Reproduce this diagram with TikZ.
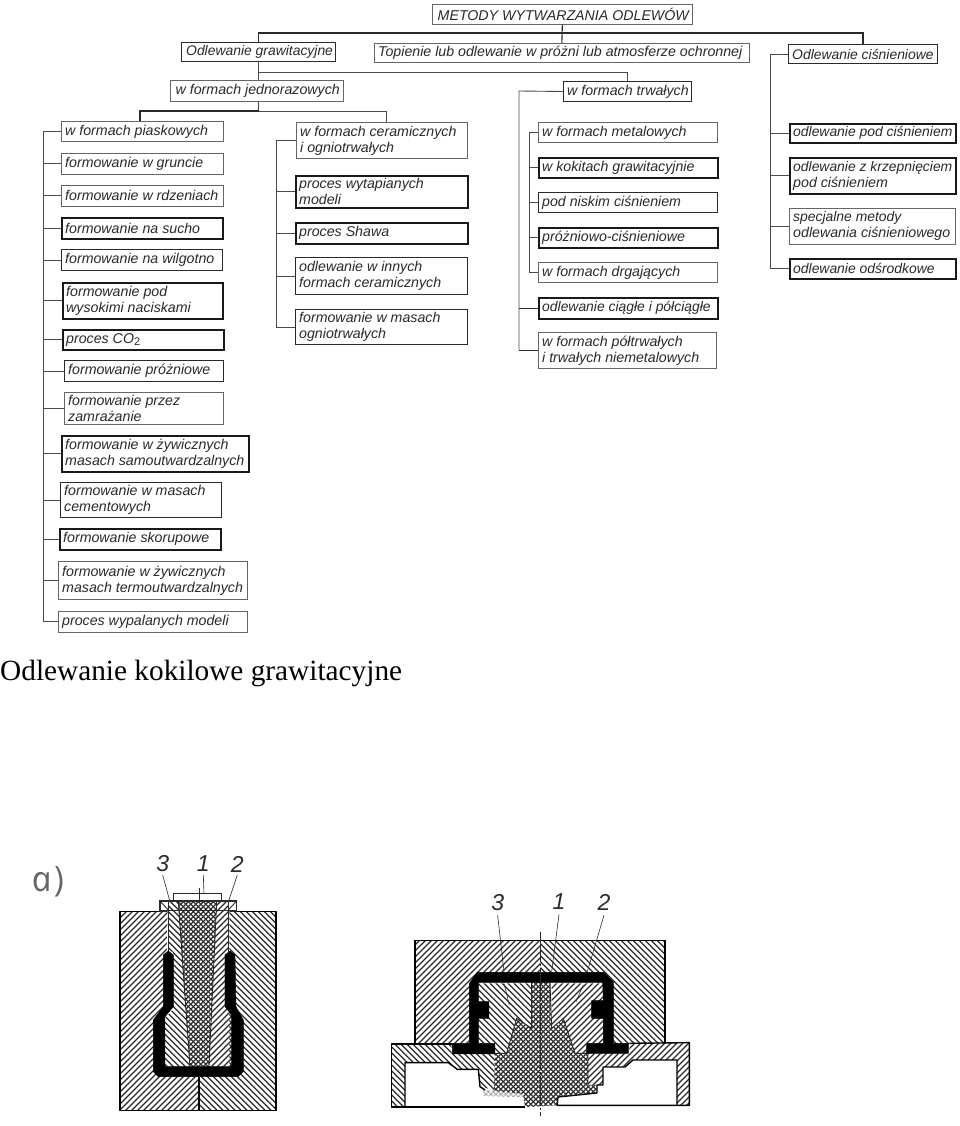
\documentclass[tikz,border=0pt]{standalone}
\usepackage{fontspec}
\setmainfont{Liberation Sans}
\newfontfamily\headfont{Liberation Serif}
\newfontfamily\afont{Open Sans}
\usetikzlibrary{calc}
\definecolor{ink}{HTML}{2A2A2A}
\definecolor{lineg}{HTML}{4A4A4A}
\newcommand{\smf}{\fontsize{13.9}{16}\selectfont}
\tikzset{
  x=1pt,y=-1pt,
  light/.style={draw=lineg!85,line width=0.7pt},
  mid/.style={draw=ink,line width=1.0pt},
  heavy/.style={draw=black!90,line width=1.6pt},
  tx/.style={anchor=west,align=left,inner sep=0pt,text=ink,font=\itshape\fontsize{14.2}{16}\selectfont},
  link/.style={draw=lineg,line width=0.9pt},
  linkb/.style={draw=ink,line width=1.1pt},
  hline/.style={draw=ink,line width=1.25pt},
  xline/.style={draw=ink,line width=1.15pt},
  outl/.style={draw=black,line width=1.4pt,line join=round},
  thin/.style={draw=ink,line width=0.9pt},
  cav/.style={fill=black,draw=black,line width=0.4pt,line join=round},
  lead/.style={draw=ink,line width=0.6pt},
  num/.style={inner sep=0pt,text=ink,font=\itshape\fontsize{23}{23}\selectfont},
}
\newcommand{\bx}[7]{%
  \pgfmathsetmacro{\bw}{#4-#2}\pgfmathsetmacro{\bh}{#5-#3}%
  \node[#6,fill=white,inner sep=0pt,minimum width=\bw pt,minimum height=\bh pt,anchor=north west] (#1) at (#2,#3) {};
  \node[tx] (#1t) at ([xshift=4pt]#1.west) {#7};
}
% hatching in the 3x coordinates of the figure scopes
\newcommand{\hatchR}[1]{\begin{scope}\clip #1;\foreach \k in {0,18,...,2600} \draw[hline] (\k,0) -- (\k-1600,1600);\end{scope}}
\newcommand{\hatchL}[1]{\begin{scope}\clip #1;\foreach \k in {-1600,-1582,...,1100} \draw[hline] (\k,0) -- (\k+1600,1600);\end{scope}}
\newcommand{\hatchX}[1]{\begin{scope}\clip #1;\foreach \k in {0,15,...,2600} \draw[xline] (\k,0) -- (\k-1600,1600);\foreach \k in {-1600,-1585,...,1100} \draw[xline] (\k,0) -- (\k+1600,1600);\end{scope}}
\begin{document}
\begin{tikzpicture}
\useasboundingbox (0,0) rectangle (960,1126);
\fill[white] (0,0) rectangle (960,1126);
% coordinates of trunks
\coordinate (tA) at (43,130);
\coordinate (tB) at (276,140);
\coordinate (tC) at (519,91);
\coordinate (tD) at (529,131);
\coordinate (tE) at (770,53);
\coordinate (j1) at (140,111);
\coordinate (j2) at (386,111);
% top boxes
\bx{met}{432}{4}{692}{24}{light}{\kern1.5pt METODY WYTWARZANIA ODLEWÓW}
\bx{gra}{181}{42}{335}{61}{mid}{\kern1pt\smf Odlewanie grawitacyjne}
\bx{top}{374}{43}{749}{62}{light}{Topienie lub odlewanie w próżni lub atmosferze ochronnej}
\bx{cis}{788}{44}{937}{63}{mid}{\smf Odlewanie ciśnieniowe}
\bx{jed}{170}{80}{343}{101}{light}{\kern1.5pt w formach jednorazowych}
\bx{trw}{563}{81}{691}{101}{mid}{w formach trwałych}
% left column
\bx{a1}{61}{121}{223}{141}{light}{w formach piaskowych}
\bx{a2}{61}{153}{223}{174}{light}{formowanie w gruncie}
\bx{a3}{61}{185}{223}{206}{light}{formowanie w rdzeniach}
\bx{a4}{61}{217}{222}{238}{heavy}{formowanie na sucho}
\bx{a5}{61}{249}{222}{270}{mid}{formowanie na wilgotno}
\bx{a6}{62}{282}{222}{318}{heavy}{formowanie pod\\wysokimi naciskami}
\bx{a7}{62}{329}{223}{349}{heavy}{proces CO\raisebox{-2.5pt}{\upshape\fontsize{11}{11}\selectfont 2}}
\bx{a8}{64}{360}{223}{381}{mid}{formowanie próżniowe}
\bx{a9}{64}{392}{223}{424}{light}{formowanie przez\\zamrażanie}
\bx{a10}{61}{435}{248}{471}{heavy}{formowanie w żywicznych\\masach samoutwardzalnych}
\bx{a11}{60}{482}{221}{517}{mid}{formowanie w masach\\cementowych}
\bx{a12}{59}{528}{220}{549}{heavy}{formowanie skorupowe}
\bx{a13}{58}{561}{247}{599}{light}{formowanie w żywicznych\\masach termoutwardzalnych}
\bx{a14}{58}{611}{247}{632}{light}{proces wypalanych modeli}
% second column
\bx{b1}{296}{122}{467}{158}{light}{w formach ceramicznych\\i ogniotrwałych}
\bx{b2}{295}{175}{467}{207}{heavy}{proces wytapianych\\modeli}
\bx{b3}{295}{222}{467}{243}{heavy}{proces Shawa}
\bx{b4}{295}{257}{467}{294}{mid}{odlewanie w innych\\formach ceramicznych}
\bx{b5}{295}{309}{467}{344}{mid}{formowanie w masach\\ogniotrwałych}
% third column
\bx{c1}{538}{122}{717}{142}{light}{w formach metalowych}
\bx{c2}{538}{157}{717}{177}{heavy}{w kokitach grawitacyjnie}
\bx{c3}{538}{192}{717}{212}{mid}{pod niskim ciśnieniem}
\bx{c4}{538}{227}{717}{247}{heavy}{próżniowo-ciśnieniowe}
\bx{c5}{538}{262}{717}{282}{light}{w formach drgających}
\bx{c6}{538}{297}{717}{318}{heavy}{\smf odlewanie ciągłe i półciągłe}
\bx{c7}{538}{332}{716}{368}{light}{w formach półtrwałych\\i trwałych niemetalowych}
% fourth column
\bx{d1}{789}{123}{955}{142}{heavy}{\smf odlewanie pod ciśnieniem}
\bx{d2}{789}{157}{955}{193}{heavy}{\smf odlewanie z krzepnięciem\\pod ciśnieniem}
\bx{d3}{789}{208}{955}{244}{light}{\smf specjalne metody\\odlewania ciśnieniowego}
\bx{d4}{789}{258}{955}{278}{heavy}{\smf odlewanie odśrodkowe}
% connectors top
\draw[linkb] (met.south) -- (top.north);
\draw[linkb] (gra.north) -- ++(0,-9) coordinate (busL) -| (cis.north);
\draw[link] (gra.south) -- (jed.north -| gra);
\coordinate (busM) at ($(gra.south)+(0,10)$);
\draw[link] (busM) -| (trw.north);
\draw[link] (jed.south -| gra) -- (gra |- j1);
\draw[linkb] (j1 -| gra) -- (j1) -- (a1.north -| j1);
\draw[link] (j1 -| gra) -- (j2) -- (b1.north -| j2);
% trunk A
\draw[link] (a1.west -| tA) -- (a14.west -| tA);
\foreach \n in {a1,a2,a3,a4,a5,a6,a7,a8,a9,a10,a11,a12,a13,a14} \draw[link] (\n.west -| tA) -- (\n.west);
% trunk B
\draw[link] (b1.west -| tB) -- (b5.west -| tB);
\foreach \n in {b1,b2,b3,b4,b5} \draw[link] (\n.west -| tB) -- (\n.west);
% trunk C
\draw[link] (trw.west) -- (tC) -- (c7.west -| tC);
\foreach \n in {c6,c7} \draw[linkb] (\n.west -| tC) -- (\n.west);
% trunk D
\draw[link] (c1.west -| tD) -- (c5.west -| tD);
\foreach \n in {c1,c2,c3,c4,c5} \draw[link] (\n.west -| tD) -- (\n.west);
% trunk E
\draw[link] (cis.west) -- (cis.west -| tE) -- (d4.west -| tE);
\foreach \n in {d1,d2,d3,d4} \draw[link] (\n.west -| tE) -- (\n.west);
% heading
\node[anchor=base west,inner sep=0pt,font=\headfont\fontsize{29.3}{30}\selectfont,text=black] (head) at (0,680) {Odlewanie kokilowe grawitacyjne};
% a)
\begin{scope}[shift={(48,882)}]
\node[xslant=-0.2,transform shape,anchor=center,inner sep=0pt,font=\afont\itshape\fontsize{35}{35}\selectfont,text=black!60] (alab) at (0,0) {a\kern3pt)};
\end{scope}
% --- left figure (3x coordinates)
\begin{scope}[shift={(0,840)},x=0.3333pt,y=-0.3333pt]
  \hatchR{(360,215) rectangle (597,812)}
  \hatchL{(597,215) rectangle (828,812)}
  \draw[outl] (360,215) rectangle (828,812);
  \draw[outl] (597,710) -- (597,812);
  % head plate and cap
  \filldraw[fill=white,draw=ink,line width=1.2pt] (480,213) -- (480,183) -- (710,183) -- (710,213) -- cycle;
  \filldraw[fill=white,draw=ink,line width=1.2pt] (520,183) -- (520,160) -- (665,160) -- (665,183) -- cycle;
  \path[fill=white] (503,213) -- (688,213) -- (688,700) -- (492,700) -- cycle;
  % core
  \hatchL{(505,186) -- (538,186) -- (570,680) -- (492,680) -- (492,537) -- (518,510) -- (518,335) -- (505,335) -- cycle}
  \hatchR{(650,186) -- (685,186) -- (685,335) -- (675,335) -- (675,500) -- (695,525) -- (695,680) -- (625,680) -- cycle}
  \hatchX{(535,186) -- (650,186) -- (627,680) -- (570,680) -- cycle}
  \draw[thin] (535,186) -- (570,680) (650,186) -- (627,680);
  \draw[thin] (505,186) -- (505,335) (685,186) -- (685,335);
  \draw[thin] (480,183) -- (505,210) (710,183) -- (685,210);
  % cavity
  \path[cav] (490,345) -- (505,333) -- (520,345) -- (520,500) -- (495,530) -- (495,680) -- (695,680) -- (695,525) -- (675,500) -- (675,345) -- (690,333) -- (705,345) -- (708,500) -- (730,540) -- (730,695) -- (715,710) -- (475,710) -- (460,695) -- (460,540) -- (490,500) -- cycle;
  % labels
  \node[num] (n3) at (488,72) {3};
  \node[num] (n1) at (610,72) {1};
  \node[num] (n2) at (712,72) {2};
  \draw[lead] (n3.south) ++(0,8) -- (510,185);
  \draw[lead] (n1.south) ++(0,8) -- (612,160);
  \draw[lead] (n2.south) ++(0,8) -- (687,180);
  \draw[lead] (597,145) -- (597,186);
\end{scope}
% --- right figure (3x coordinates)
\begin{scope}[shift={(370,870)},x=0.3333pt,y=-0.3333pt]
  \hatchR{(135,212) rectangle (512,520)}
  \hatchL{(512,212) rectangle (885,520)}
  \draw[outl] (135,520) -- (135,212) -- (885,212) -- (885,520);
  % lower plate
  \path[fill=white] (65,522) rectangle (958,712);
  \hatchL{(65,522) -- (245,522) -- (245,550) -- (375,550) -- (372,660) -- (330,650) -- (325,598) -- (262,598) -- (235,578) -- (105,578) -- (105,712) -- (65,712) -- cycle}
  \hatchR{(654,550) -- (778,550) -- (778,520) -- (958,518) -- (958,705) -- (921,705) -- (921,570) -- (789,570) -- (765,591) -- (699,591) -- (699,645) -- (654,645) -- cycle}
  \draw[outl] (465,711) -- (65,711) -- (65,522) -- (245,522);
  \draw[outl] (778,520) -- (958,518) -- (958,706) -- (561,706);
  \draw[outl] (105,711) -- (105,578) -- (235,578) -- (262,598) -- (325,598) -- (330,650) -- (345,660);
  \draw[outl] (921,706) -- (921,570) -- (789,570) -- (765,591) -- (699,591) -- (699,645) -- (681,645) -- (681,669) -- (564,681) -- (561,706);
  % inner cores
  \path[fill=white] (325,335) rectangle (700,550);
  \hatchL{(325,340) -- (482,340) -- (485,475) -- (440,445) -- (410,550) -- (375,550) -- (375,520) -- (325,520) -- cycle}
  \hatchR{(545,340) -- (700,340) -- (700,520) -- (650,520) -- (650,550) -- (615,550) -- (580,445) -- (545,475) -- cycle}
  % casting centre
  \hatchX{(375,550) -- (410,550) -- (440,445) -- (485,475) -- (485,337) -- (540,337) -- (545,475) -- (580,445) -- (615,550) -- (654,550) -- (654,645) -- (681,645) -- (681,669) -- (564,681) -- (561,706) -- (465,711) -- (460,672) -- (372,662) -- cycle}
  \begin{scope}[opacity=0.3]
    \hatchX{(340,660) -- (372,662) -- (460,672) -- (462,682) -- (340,678) -- cycle}
  \end{scope}
  \draw[thin] (375,550) -- (410,550) -- (440,445) -- (485,475) -- (485,337);
  \draw[thin] (540,337) -- (545,475) -- (580,445) -- (615,550) -- (654,550) -- (654,645);
  % cavity
  \path[cav] (247,520) -- (298,520) -- (298,340) -- (322,307) -- (702,307) -- (730,335) -- (730,520) -- (775,520) -- (775,550) -- (650,550) -- (650,520) -- (700,520) -- (700,445) -- (665,445) -- (665,392) -- (700,392) -- (698,337) -- (325,337) -- (325,395) -- (357,395) -- (357,445) -- (325,445) -- (325,520) -- (375,520) -- (375,552) -- (247,552) -- cycle;
  % centre line
  \coordinate (cl1) at (512,185);
  \coordinate (cl2) at (512,738);
  \draw[ink,line width=0.7pt,dash pattern=on 30pt off 2pt on 2pt off 2pt] (cl1) -- (cl2);
  % labels
  \node[num] (m3) at (383,97) {3};
  \node[num] (m1) at (567,95) {1};
  \node[num] (m2) at (702,97) {2};
  \draw[lead] (m3.south) ++(0,14) -- (402,305);
  \draw[lead] (402,340) -- (418,405);
  \draw[lead] (m1.south) ++(0,14) -- (545,305);
  \draw[lead] (m2.south) ++(0,14) -- (652,305);
  \draw[lead] (640,345) -- (618,395);
\end{scope}
\end{tikzpicture}
\end{document}
